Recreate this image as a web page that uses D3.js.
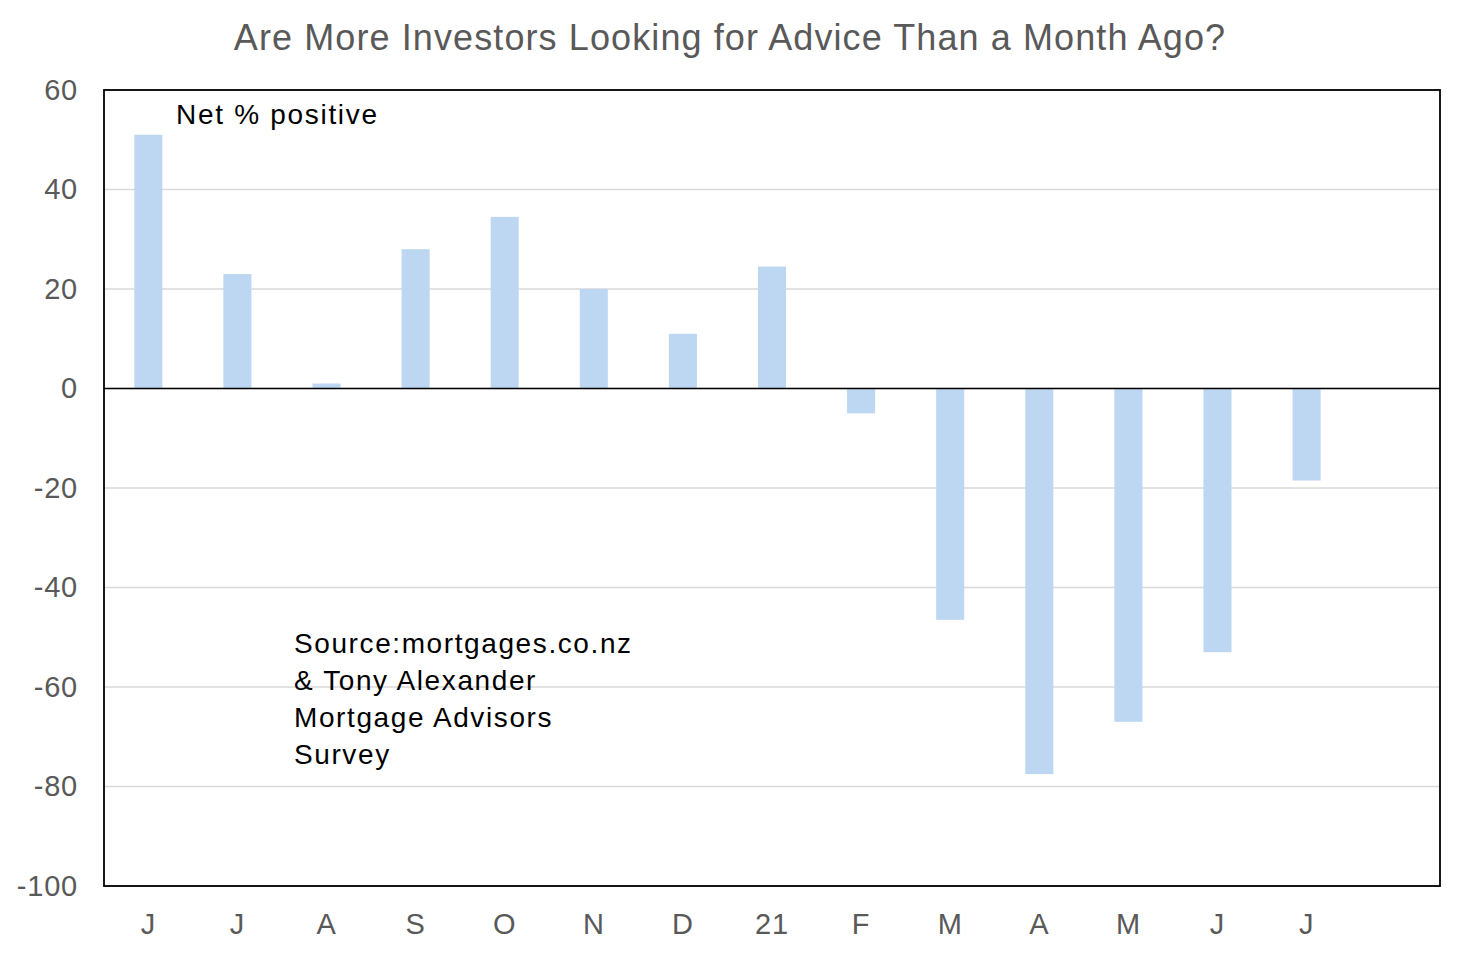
<!DOCTYPE html>
<html>
<head>
<meta charset="utf-8">
<script src="https://cdn.jsdelivr.net/npm/d3@7"></script>
<style>
  body { margin: 0; background: #fff; }
  text { font-family: "Liberation Sans", Arial, sans-serif; }
</style>
</head>
<body>
<div id="root"></div>
<script>
// month labels (last slot is empty in the original)
const months = ["J", "J", "A", "S", "O", "N", "D", "21", "F", "M", "A", "M", "J", "J", ""];
const netPositive = [51, 23, 1, 28, 34.5, 20, 11, 24.5, -5, -46.5, -77.5, -67, -53, -18.5];
const yTicks = [60, 40, 20, 0, -20, -40, -60, -80, -100];
const sourceLines = ["Source:mortgages.co.nz", "& Tony Alexander", "Mortgage Advisors", "Survey"];

const width = 1462, height = 954;
const margin = {top: 90, right: 22, bottom: 68, left: 104};
const plotW = width - margin.left - margin.right;
const plotH = height - margin.top - margin.bottom;

const svg = d3.select("#root").append("svg")
    .attr("width", width)
    .attr("height", height);

svg.append("text")
    .attr("x", 730)
    .attr("y", 50)
    .attr("text-anchor", "middle")
    .attr("fill", "#595959")
    .style("font-size", "36px")
    .style("letter-spacing", "1.1px")
    .text("Are More Investors Looking for Advice Than a Month Ago?");

const g = svg.append("g").attr("transform", `translate(${margin.left},${margin.top})`);

const x = d3.scaleBand()
    .domain(d3.range(months.length))
    .range([0, plotW])
    .paddingInner(0.685)
    .paddingOuter(0.34);

const y = d3.scaleLinear().domain([-100, 60]).range([plotH, 0]);

// gridlines
g.selectAll("line.grid")
    .data(yTicks)
    .enter()
    .append("line")
    .attr("class", "grid")
    .attr("x1", 0).attr("x2", plotW)
    .attr("y1", d => y(d)).attr("y2", d => y(d))
    .attr("stroke", "#d9d9d9")
    .attr("stroke-width", 1.3);

// bars
g.selectAll("rect.bar")
    .data(netPositive)
    .enter()
    .append("rect")
    .attr("class", "bar")
    .attr("x", (d, i) => x(i))
    .attr("width", x.bandwidth())
    .attr("y", d => y(Math.max(0, d)))
    .attr("height", d => Math.abs(y(d) - y(0)))
    .attr("fill", "#bdd7f2");

// zero line
g.append("line")
    .attr("x1", 0).attr("x2", plotW)
    .attr("y1", y(0)).attr("y2", y(0))
    .attr("stroke", "#000")
    .attr("stroke-width", 1.5);

// border
g.append("rect")
    .attr("width", plotW)
    .attr("height", plotH)
    .attr("fill", "none")
    .attr("stroke", "#000")
    .attr("stroke-width", 1.8);

// y axis labels
const yAxis = g.append("g")
    .call(d3.axisLeft(y).tickValues(yTicks).tickFormat(d => String(d)).tickSize(0).tickPadding(26));
yAxis.select(".domain").remove();
yAxis.selectAll("text")
    .attr("fill", "#595959")
    .style("font-size", "29px")
    .style("letter-spacing", "0.8px")
    .style("font-family", "'Liberation Sans', Arial, sans-serif");

// x axis labels
const xAxis = g.append("g")
    .attr("transform", `translate(0,${plotH})`)
    .call(d3.axisBottom(x).tickFormat(i => months[i]).tickSize(0).tickPadding(27));
xAxis.select(".domain").remove();
xAxis.selectAll("text")
    .attr("fill", "#595959")
    .style("font-size", "29px")
    .style("letter-spacing", "0.8px")
    .style("font-family", "'Liberation Sans', Arial, sans-serif");

// annotations
g.append("text")
    .attr("x", 72)
    .attr("y", 34)
    .attr("fill", "#000")
    .style("font-size", "28px")
    .style("letter-spacing", "1.7px")
    .text("Net % positive");

g.append("text")
    .attr("x", 190)
    .attr("y", 563)
    .attr("fill", "#000")
    .style("font-size", "28px")
    .style("letter-spacing", "1.6px")
    .selectAll("tspan")
    .data(sourceLines)
    .enter()
    .append("tspan")
    .attr("x", 190)
    .attr("dy", (d, i) => i === 0 ? 0 : 37)
    .text(d => d);
</script>
</body>
</html>
